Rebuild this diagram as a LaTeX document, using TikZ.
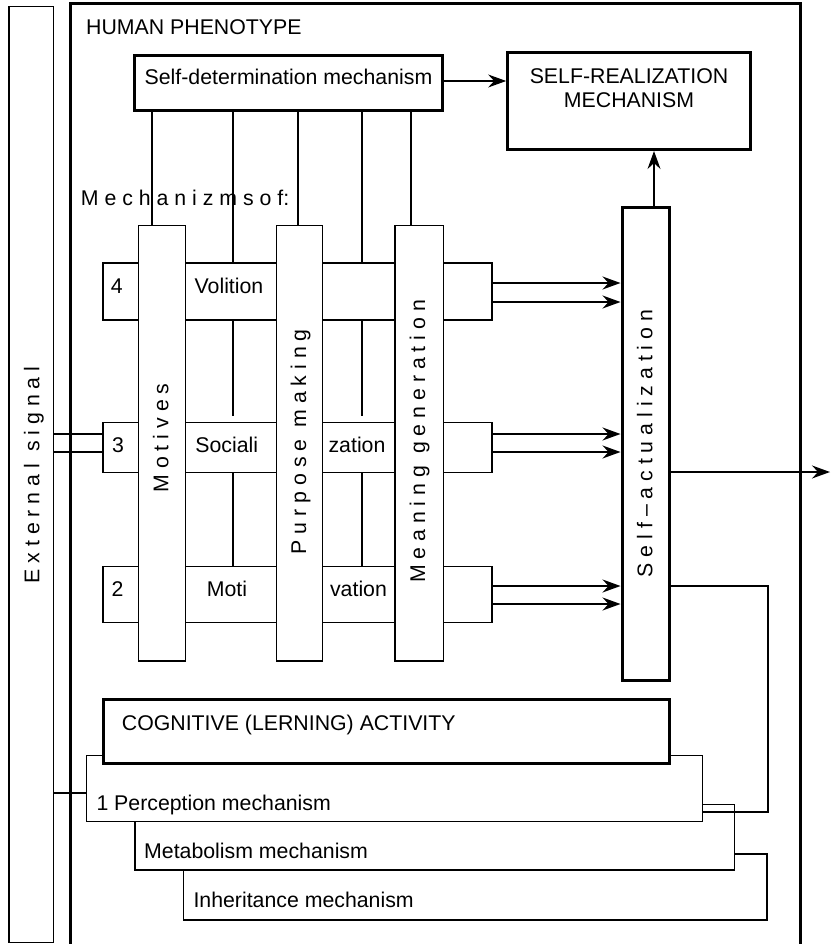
\documentclass[tikz,border=0pt]{standalone}
\usepackage{fontspec}
\setmainfont{Liberation Sans}
\usetikzlibrary{arrows.meta, positioning, calc}

\tikzset{
  box/.style={draw, line width=1.3pt, fill=white, inner sep=0pt},
  heavybox/.style={box, line width=3pt},
  txt/.style={font=\fontsize{21.3}{24}\selectfont, inner sep=0pt},
  vtxt/.style={txt, rotate=90, anchor=base},
  link/.style={line width=1.3pt},
  arr/.style={link, -{Stealth[length=18pt, width=13pt, inset=6pt]}}
}

\begin{document}
\begin{tikzpicture}[x=1pt, y=-1pt]
  \useasboundingbox (0,0) rectangle (834,944);

  % outer frames
  \node[box, minimum width=44.7pt, minimum height=936pt] (ext) at (31.3,474.7) {};
  \draw[line width=3pt] (70,944) |- (800,4) -- (800,944);

  % top blocks
  \node[heavybox, minimum width=308pt, minimum height=55pt] (sd) at (288.7,82.8) {};
  \node[heavybox, minimum width=243.3pt, minimum height=96.7pt] (sr) at (629.3,101.2) {};

  % rows 4, 3, 2
  \node[box, minimum width=389pt, minimum height=57pt] (row4) at (297.5,291.5) {};
  \node[box, minimum width=389pt, minimum height=50pt] (row3) at (297.5,447.2) {};
  \node[box, minimum width=389pt, minimum height=56pt] (row2) at (297.5,594.7) {};

  % columns
  \node[box, minimum width=47pt, minimum height=435.3pt] (motives) at (161.8,443.3) {};
  \node[box, minimum width=46pt, minimum height=435.3pt] (purpose) at (299.3,443.3) {};
  \node[box, minimum width=48.3pt, minimum height=435.3pt] (meaning) at (419.2,443.3) {};
  \node[heavybox, minimum width=47pt, minimum height=473pt] (sa) at (645.5,443.5) {};

  % cognitive stack
  \node[box, minimum width=583.7pt, minimum height=66pt] (inh) at (475.2,887) {};
  \node[box, minimum width=599.7pt, minimum height=65.3pt] (met) at (434.8,837.3) {};
  \node[box, minimum width=616pt, minimum height=66pt] (perc) at (394.3,788.7) {};
  \node[heavybox, minimum width=566.5pt, minimum height=64.6pt] (cog) at (386.3,731.5) {};

  % labels
  \node[txt, anchor=base west] (phen) at (86,35) {HUMAN PHENOTYPE};
  \node[txt, anchor=base] (sdtext) at (288.5,85) {Self-determination mechanism};
  \node[txt, align=center] (srtext) at (629,88) {SELF-REALIZATION\\MECHANISM};
  \node[txt, anchor=base west] (mech) at (80.7,205.7) {M e c h a n i z m s o f:};
  \foreach \n/\t/\x/\y in {n4/4/116.7/293, vol/Volition/229/293,
      n3/3/118/452, soc/Sociali/226.7/452, zat/zation/357/452,
      n2/2/117.5/596, mot/Moti/227/596, vat/vation/358.5/596}
    \node[txt, anchor=base] (\n) at (\x,\y) {\t};
  \node[txt, anchor=base west] (cogtext) at (121.7,730) {COGNITIVE (LERNING) ACTIVITY};
  \node[txt, anchor=base west] (perctext) at (96.3,810) {1 Perception mechanism};
  \node[txt, anchor=base west] (mettext) at (144,858.3) {Metabolism mechanism};
  \node[txt, anchor=base west] (inhtext) at (193.3,907.3) {Inheritance mechanism};

  % vertical labels
  \node[vtxt] (exttext) at (39.3,475) {E x t e r n a l\ \ s i g n a l};
  \node[vtxt] (motext) at (168.3,438) {M o t i v e s};
  \node[vtxt] (purtext) at (306,441.7) {P u r p o s e\ \ m a k i n g};
  \node[vtxt] (meantext) at (425,441.5) {M e a n i n g\ \ g e n e r a t i o n};
  \node[vtxt] (satext) at (652.3,443.5) {S e l f -- a c t u a l i z a t i o n};

  % links from self-determination
  \foreach \x/\t in {152/motives, 233/row4, 298/purpose, 362/row4, 411/meaning}
    \draw[link] (\x,0 |- sd.south) -- (\x,0 |- \t.north);
  \foreach \x in {233, 362} {
    \draw[link] (\x,0 |- row4.south) -- ++(0,95);
    \draw[link] (\x,0 |- row3.south) -- (\x,0 |- row2.north);
  }

  % arrows
  \draw[arr] (sd.east |- 0,81) -- (sr.west |- 0,81);
  \draw[arr] (654,0 |- sa.north) -- (654,0 |- sr.south);
  \foreach \r/\y in {row4/283, row4/302, row3/434, row3/452, row2/586, row2/604}
    \draw[arr] (\r.east |- 0,\y) -- (sa.west |- 0,\y);
  \coordinate (out) at (830,472);
  \draw[arr] (sa.east |- out) -- (out);

  % external signal
  \foreach \y in {434, 452}
    \draw[link] (ext.east |- 0,\y) -- (row3.west |- 0,\y);
  \draw[link] (ext.east |- 0,793) -- (perc.west |- 0,793);

  % feedback
  \coordinate (loop) at (768,812);
  \draw[link] (sa.east |- 0,586) -| (loop) -- (perc.east |- loop);
\end{tikzpicture}
\end{document}
